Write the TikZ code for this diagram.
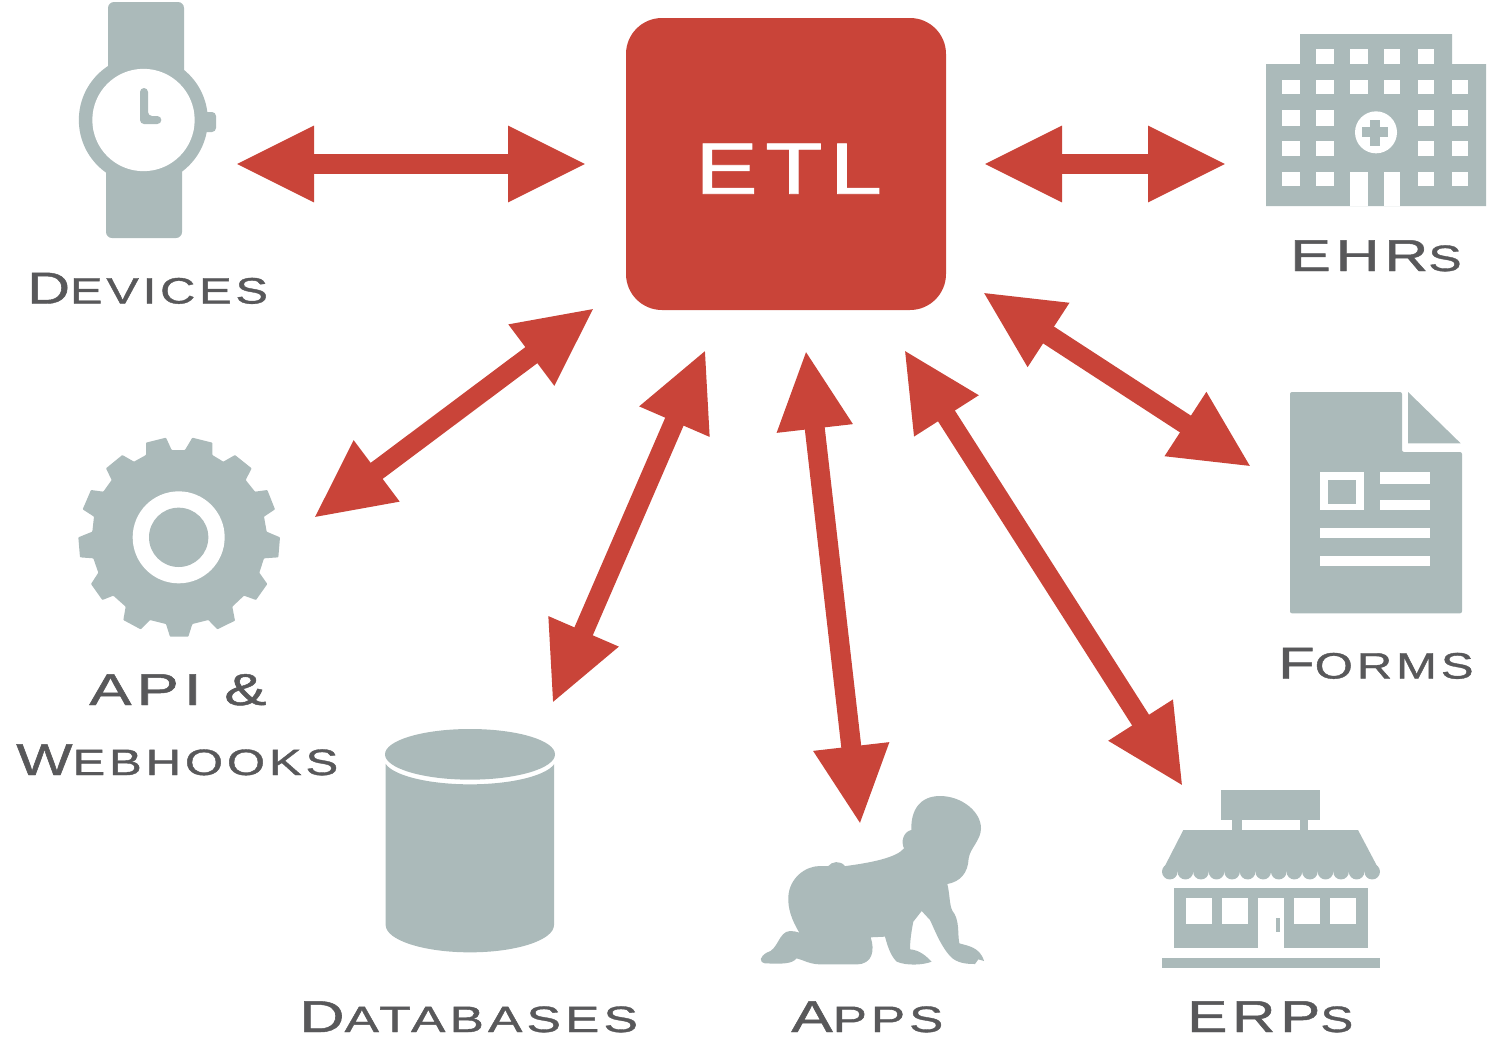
\documentclass[tikz,border=0pt]{standalone}
\usepackage{fontspec}
\usetikzlibrary{arrows.meta}
\setmainfont{Liberation Sans}
\newfontfamily\labfont[LetterSpace=8,FakeBold=1]{Liberation Sans}
\definecolor{iconC}{HTML}{ABBABA}
\definecolor{redC}{HTML}{C94439}
\definecolor{textC}{HTML}{58585A}
\newcommand{\labx}[3]{\resizebox{#1pt}{\height}{\labfont\fontsize{33.5pt}{36pt}\selectfont #2{\fontsize{27.5pt}{36pt}\selectfont #3}}}
\tikzset{
  icon/.style={fill=iconC,draw=none},
  hole/.style={fill=white,draw=none},
  lab/.style={anchor=base west,inner sep=0pt,text=textC},
  ghost/.style={inner sep=0pt,draw=none,fill=none},
  biarrow/.style={draw=redC,line width=15pt,shorten <=-1.5pt,shorten >=-1.5pt,{Triangle[length=59.25pt,width=52.8pt,fill=redC]}-{Triangle[length=59.25pt,width=52.8pt,fill=redC]}},
  etlbox/.style={fill=redC,draw=none,rounded corners=27pt,minimum width=240pt,minimum height=219pt,inner sep=0pt,text=white,text height=44.6pt,text depth=0pt},
  zoomA/.style={x=.25pt,y=-.25pt}
}
\begin{document}
\begin{tikzpicture}[x=.75pt,y=-.75pt]
\useasboundingbox (0,0) rectangle (1492,1060);

% ---------- ETL
\node[etlbox] (etl) at (786,164) {\hspace*{4pt}\resizebox{140pt}{\height}{\labfont\fontsize{54.5pt}{60pt}\selectfont ETL}};

% ---------- Devices: watch
\begin{scope}[shift={(60,0)},zoomA]
  \fill[icon,rounded corners=4.5pt] (144,240) -- (144,6) -- (372,6) -- (372,240) -- cycle;
  \fill[icon,rounded corners=4.5pt] (138,480) -- (138,714) -- (366,714) -- (366,480) -- cycle;
  \fill[icon,rounded corners=3pt] (420,336) rectangle (468,396);
  \fill[icon] (250,360) circle (193.5);
  \fill[hole] (250.5,360) circle (153.5);
  \fill[icon,rounded corners=3pt] (240,372) -- (240,264) -- (264,264) -- (264,348) -- (304,348) -- (304,372) -- cycle;
\end{scope}
\node[ghost,minimum width=103pt,minimum height=177pt] (devices) at (147,120) {};
\node[lab] (devicesL) at (27,303.5) {\labx{180.5}{D}{EVICES}};

% ---------- EHRs: hospital
\begin{scope}[shift={(1250,20)},zoomA]
  \fill[icon] (48,558) -- (48,132) -- (150,132) -- (150,42) -- (606,42) -- (606,132) -- (708,132) -- (708,558) -- cycle;
  \foreach \a/\b in {198/252,300/354,402/450,504/552} \fill[hole] (\a,88) rectangle (\b,132);
  \foreach \a/\b in {96/150,198/252,300/354,402/450,504/552,606/654} \fill[hole] (\a,180) rectangle (\b,222);
  \foreach \a/\b in {96/150,198/252,504/552,606/654} {
    \fill[hole] (\a,270) rectangle (\b,318);
    \fill[hole] (\a,364) rectangle (\b,408);
    \fill[hole] (\a,456) rectangle (\b,498);
  }
  \fill[hole] (300,456) rectangle (354,558);
  \fill[hole] (402,456) rectangle (450,558);
  \fill[hole] (378,337) circle (63);
  \fill[icon] (336,322) rectangle (414,352);
  \fill[icon] (360,300) rectangle (390,378);
\end{scope}
\node[ghost,minimum width=165pt,minimum height=129pt] (ehrs) at (1376,120) {};
\node[lab] (ehrsL) at (1290,271) {\labx{128.5}{EHR}{S}};

% ---------- API & Webhooks: gear
\begin{scope}[shift={(60,420)},zoomA]
  \fill[icon,rounded corners=.5pt] (258,68) -- (318,53) -- (335,90) -- (375,90) -- (397,53) -- (457,68) -- (457,105) -- (490,125) -- (525,105) -- (575,145) -- (557,180) -- (585,215) -- (622,210) -- (645,268) -- (612,290) -- (620,335) -- (660,352) -- (655,412) -- (612,415) -- (598,458) -- (622,492) -- (588,540) -- (552,527) -- (517,560) -- (525,602) -- (472,628) -- (445,600) -- (397,612) -- (385,650) -- (330,650) -- (318,612) -- (270,600) -- (242,628) -- (190,600) -- (197,560) -- (160,527) -- (127,540) -- (93,492) -- (115,458) -- (100,415) -- (60,412) -- (55,352) -- (97,335) -- (102,290) -- (68,268) -- (93,210) -- (130,215) -- (155,180) -- (138,145) -- (187,105) -- (222,125) -- (258,105) -- cycle;
  \fill[hole] (356,352) circle (138);
  \fill[icon] (356,352) circle (89);
\end{scope}
\node[ghost,minimum width=152pt,minimum height=152pt] (api) at (179,537) {};
\node[lab] (apiL) at (89,705) {\labx{133}{API \&}{}};
\node[lab] (webhooksL) at (16,775) {\labx{241.5}{W}{EBHOOKS}};

% ---------- Databases: cylinder
\begin{scope}[shift={(370,715)},zoomA]
  \begin{scope}
    \clip (47,100) rectangle (552,730);
    \fill[icon] (42,132) .. controls (42,174) and (158,208) .. (300,208) .. controls (442,208) and (558,174) .. (558,132) -- (552,630) .. controls (552,675) and (440,712) .. (300,712) .. controls (160,712) and (47,675) .. (47,630) -- cycle;
  \end{scope}
  \fill[icon] (300,118) ellipse [x radius=255,y radius=76];
\end{scope}
\node[ghost,minimum width=127.5pt,minimum height=168pt] (databases) at (470,840) {};
\node[lab] (databasesL) at (299,1032) {\labx{254}{D}{ATABASES}};

% ---------- Apps: crawling baby
\begin{scope}[shift={(740,780)},zoomA]
  \fill[icon] (318,258) .. controls (400,247) and (470,232) .. (492,205)
    .. controls (482,185) and (490,155) .. (514,150)
    .. controls (512,90) and (540,48) .. (600,48)
    .. controls (665,48) and (723,95) .. (723,145)
    .. controls (723,180) and (690,205) .. (686,235)
    .. controls (684,280) and (660,305) .. (622,312)
    .. controls (630,345) and (628,375) .. (637,392)
    .. controls (660,420) and (652,460) .. (658,490)
    .. controls (680,497) and (720,500) .. (732,543)
    -- (715,538) -- (705,552)
    .. controls (680,552) and (650,550) .. (630,528)
    .. controls (600,495) and (580,440) .. (570,420)
    -- (545,393) -- (520,425)
    .. controls (515,450) and (510,480) .. (510,508)
    .. controls (540,510) and (560,530) .. (575,545)
    .. controls (550,555) and (500,558) .. (470,545)
    .. controls (450,525) and (442,495) .. (435,470)
    -- (392,472)
    .. controls (405,510) and (398,553) .. (350,553)
    -- (240,553)
    .. controls (210,553) and (190,540) .. (170,535)
    .. controls (155,552) and (130,552) .. (75,550)
    .. controls (55,545) and (60,530) .. (80,518)
    .. controls (115,510) and (115,455) .. (150,453)
    .. controls (160,453) and (170,455) .. (178,458)
    .. controls (155,420) and (143,385) .. (145,350)
    .. controls (148,295) and (195,258) .. (240,258)
    -- (265,258)
    .. controls (275,245) and (300,240) .. (315,258) -- cycle;
\end{scope}
\node[ghost,minimum width=169pt,minimum height=127pt] (apps) at (871,880) {};
\node[lab] (appsL) at (791,1032) {\labx{114}{A}{PPS}};

% ---------- ERPs: store
\begin{scope}[shift={(1150,780)},zoomA]
  \fill[icon] (214,30) rectangle (510,120);
  \fill[icon] (246,120) rectangle (276,150);
  \fill[icon] (450,120) rectangle (474,150);
  \fill[icon] (100,150) -- (624,150) -- (690,275) -- (36,275) -- cycle;
  \foreach \k in {0,...,13} \fill[icon] ({59.4+46.7*\k},275) circle (23.4);
  \fill[icon] (72,324) rectangle (654,504);
  \foreach \a/\b in {108/186,216/294,432/510,540/618} \fill[hole] (\a,354) rectangle (\b,432);
  \fill[hole] (324,354) rectangle (402,504);
  \fill[icon] (378,414) rectangle (390,456);
  \fill[icon] (36,534) rectangle (690,564);
\end{scope}
\node[ghost,minimum width=164pt,minimum height=134pt] (erps) at (1271,879) {};
\node[lab] (erpsL) at (1187,1032) {\labx{124.5}{ERP}{S}};

% ---------- Forms: document
\begin{scope}[shift={(1270,380)},zoomA]
  \fill[icon,rounded corners=1.5pt] (60,36) -- (396,36) -- (396,216) -- (576,216) -- (576,700) -- (60,700) -- cycle;
  \fill[icon] (414,36) -- (572,190) -- (414,190) -- cycle;
  \fill[hole] (150,276) rectangle (282,390);
  \fill[icon] (174,300) rectangle (258,372);
  \fill[hole] (330,276) rectangle (480,312);
  \fill[hole] (330,360) rectangle (480,390);
  \fill[hole] (150,444) rectangle (480,474);
  \fill[hole] (150,528) rectangle (480,558);
\end{scope}
\node[ghost,minimum width=129pt,minimum height=166pt] (forms) at (1376,503) {};
\node[lab] (formsL) at (1278,678.5) {\labx{146.5}{F}{ORMS}};

% ---------- connector ends
\coordinate (devicesEnd) at (237,164);  \coordinate (etlDevices) at (585,164);
\coordinate (etlEhrs) at (985,164);     \coordinate (ehrsEnd) at (1225,164);
\coordinate (etlApi) at (593,309);      \coordinate (apiEnd) at (315,517);
\coordinate (etlDb) at (705,351);       \coordinate (dbEnd) at (553,702);
\coordinate (etlApps) at (806,352);     \coordinate (appsEnd) at (860,823);
\coordinate (etlErps) at (905,351);     \coordinate (erpsEnd) at (1182,785);
\coordinate (etlForms) at (984,293);    \coordinate (formsEnd) at (1250,466);

% ---------- connectors
\draw[biarrow] (devicesEnd) -- (etlDevices);
\draw[biarrow] (etlEhrs) -- (ehrsEnd);
\draw[biarrow] (etlApi) -- (apiEnd);
\draw[biarrow] (etlDb) -- (dbEnd);
\draw[biarrow] (etlApps) -- (appsEnd);
\draw[biarrow] (etlErps) -- (erpsEnd);
\draw[biarrow] (etlForms) -- (formsEnd);
\end{tikzpicture}
\end{document}
